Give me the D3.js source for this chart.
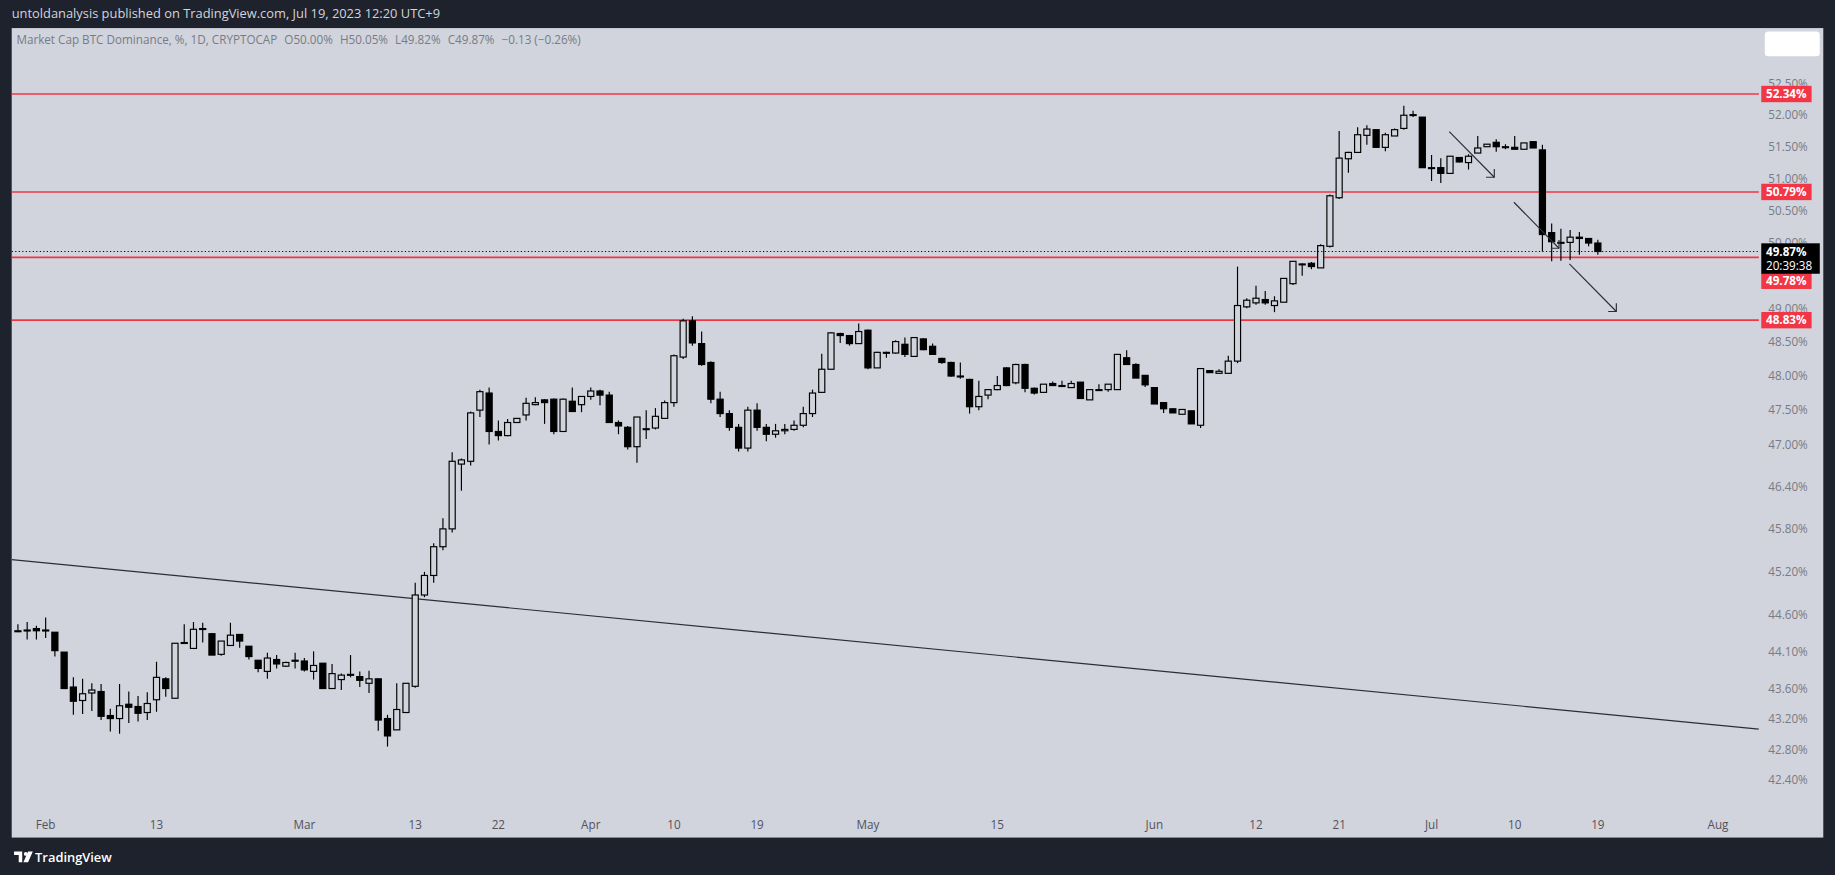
<!DOCTYPE html>
<html><head><meta charset="utf-8">
<script src="https://cdn.jsdelivr.net/npm/d3@7"></script>
<style>html,body{margin:0;padding:0;background:#1e222d;overflow:hidden}</style>
</head><body>
<svg id="c" width="1835" height="875" viewBox="0 0 1568 748" preserveAspectRatio="none"></svg>
<script>
// ---- data ----
const startDate = "2023-01-29";
// daily candles [open, high, low, close] from Jan 29 to Jul 19, 2023
const ohlc = [
[44.39,44.48,44.37,44.39],[44.40,44.51,44.27,44.40],[44.42,44.46,44.27,44.39],
[44.40,44.57,44.29,44.40],[44.37,44.37,44.04,44.12],[44.10,44.10,43.61,43.61],[43.63,43.76,43.26,43.44],[43.45,43.74,43.27,43.54],[43.55,43.68,43.31,43.59],[43.57,43.67,43.19,43.24],[43.25,43.34,43.04,43.21],[43.21,43.67,43.01,43.38],[43.40,43.57,43.15,43.36],[43.37,43.51,43.17,43.28],[43.29,43.56,43.19,43.41],[43.46,43.97,43.30,43.76],[43.74,43.76,43.50,43.61],[43.48,44.22,43.48,44.22],[44.22,44.48,44.22,44.23],[44.15,44.51,44.15,44.41],[44.42,44.50,44.23,44.41],[44.35,44.35,44.06,44.06],[44.07,44.25,44.05,44.25],[44.19,44.50,44.19,44.33],[44.34,44.34,44.16,44.25],[44.18,44.18,44.00,44.04],[43.99,43.99,43.83,43.88],[43.84,44.09,43.74,44.02],[44.00,44.06,43.88,43.94],[43.91,43.97,43.90,43.96],[43.99,44.09,43.88,43.98],
[43.98,44.02,43.84,43.86],[43.84,44.11,43.73,43.92],[43.95,43.95,43.61,43.61],[43.61,43.94,43.61,43.81],[43.73,43.81,43.59,43.79],[43.80,44.06,43.76,43.79],[43.77,43.84,43.63,43.72],[43.68,43.85,43.55,43.74],[43.74,43.74,43.05,43.19],[43.21,43.26,42.84,42.98],[43.06,43.68,43.06,43.33],[43.29,43.68,43.29,43.68],[43.64,45.05,43.62,44.88],[44.88,45.20,44.85,45.15],[45.15,45.60,45.05,45.55],[45.55,45.95,45.50,45.80],[45.80,46.89,45.75,46.76],[46.72,46.80,46.34,46.78],[46.76,47.48,46.70,47.46],[47.50,47.80,47.40,47.77],[47.75,47.83,47.00,47.19],[47.19,47.35,47.06,47.13],[47.13,47.37,47.12,47.32],[47.32,47.38,47.32,47.38],[47.43,47.68,47.35,47.60],[47.58,47.69,47.57,47.61],[47.65,47.66,47.30,47.61],[47.66,47.67,47.15,47.19],[47.19,47.67,47.19,47.66],[47.63,47.83,47.48,47.48],[47.58,47.70,47.47,47.70],
[47.70,47.83,47.65,47.78],[47.78,47.80,47.57,47.72],[47.72,47.77,47.32,47.32],[47.32,47.35,47.15,47.27],[47.25,47.27,46.93,46.97],[46.97,47.40,46.74,47.40],[47.23,47.50,47.08,47.23],[47.24,47.53,47.22,47.41],[47.38,47.64,47.38,47.61],[47.61,48.32,47.55,48.30],[48.28,48.85,48.25,48.82],[48.82,48.89,48.45,48.49],[48.48,48.66,48.15,48.17],[48.20,48.22,47.60,47.66],[47.66,47.77,47.40,47.45],[47.45,47.50,47.20,47.25],[47.25,47.30,46.90,46.95],[46.95,47.55,46.90,47.50],[47.50,47.60,47.20,47.25],[47.25,47.30,47.05,47.15],[47.15,47.30,47.10,47.20],[47.20,47.30,47.15,47.22],[47.22,47.35,47.20,47.28],[47.28,47.55,47.25,47.45],[47.45,47.80,47.40,47.75],[47.76,48.33,47.75,48.10],[48.10,48.65,48.10,48.64],[48.63,48.64,48.49,48.60],[48.60,48.61,48.45,48.48],[48.48,48.78,48.48,48.66],
[48.68,48.69,48.10,48.12],[48.12,48.36,48.12,48.35],[48.35,48.36,48.27,48.35],[48.34,48.53,48.33,48.51],[48.47,48.57,48.28,48.32],[48.29,48.58,48.28,48.57],[48.55,48.56,48.38,48.39],[48.44,48.48,48.31,48.32],[48.26,48.27,48.18,48.20],[48.20,48.21,47.99,48.00],[48.00,48.20,47.96,47.99],[47.95,47.96,47.45,47.55],[47.55,47.93,47.50,47.70],[47.72,47.81,47.66,47.80],[47.80,48.00,47.79,47.86],[48.12,48.13,47.85,47.86],[47.90,48.18,47.88,48.17],[48.17,48.18,47.76,47.82],[47.82,47.83,47.73,47.75],[47.76,47.88,47.76,47.88],[47.89,47.92,47.86,47.86],[47.86,47.93,47.85,47.86],[47.83,47.93,47.83,47.89],[47.91,47.91,47.67,47.67],[47.65,47.80,47.65,47.80],[47.80,47.88,47.78,47.80],[47.80,47.88,47.77,47.88],[47.80,48.32,47.80,48.32],[48.27,48.38,48.17,48.17],[48.17,48.19,47.97,47.97],[48.01,48.01,47.84,47.87],
[47.83,47.83,47.59,47.59],[47.61,47.61,47.46,47.52],[47.52,47.52,47.46,47.46],[47.44,47.51,47.44,47.51],[47.49,47.49,47.30,47.30],[47.28,48.11,47.24,48.11],[48.08,48.08,48.05,48.05],[48.04,48.10,48.04,48.07],[48.04,48.30,48.04,48.22],[48.22,49.64,48.19,49.05],[49.03,49.16,49.01,49.13],[49.09,49.35,49.06,49.16],[49.14,49.27,49.06,49.09],[49.05,49.19,48.95,49.12],[49.10,49.46,49.10,49.46],[49.38,49.72,49.36,49.72],[49.68,49.69,49.50,49.68],[49.69,49.71,49.60,49.64],[49.62,49.98,49.62,49.96],[49.95,50.75,49.93,50.73],[50.70,51.75,50.68,51.32],[51.31,51.42,51.09,51.41],[51.41,51.81,51.41,51.69],[51.68,51.84,51.53,51.78],[51.77,51.77,51.49,51.49],[51.49,51.72,51.43,51.69],[51.67,51.79,51.67,51.77],[51.79,52.15,51.77,52.00],[52.01,52.07,51.97,52.01],[51.97,51.97,51.17,51.17],
[51.17,51.37,50.96,51.17],[51.17,51.32,50.93,51.08],[51.08,51.35,51.08,51.35],[51.33,51.33,51.25,51.26],[51.25,51.38,51.14,51.35],[51.40,51.67,51.40,51.48],[51.50,51.54,51.50,51.54],[51.57,51.62,51.42,51.50],[51.50,51.54,51.46,51.50],[51.49,51.67,51.46,51.46],[51.46,51.56,51.46,51.56],[51.58,51.58,51.48,51.48],[51.45,51.53,49.87,50.13],[50.16,50.30,49.72,50.02],[50.01,50.22,49.73,50.01],[50.01,50.20,49.74,50.09],[50.09,50.17,49.82,50.07],[50.07,50.07,49.95,50.00],[50.00,50.05,49.82,49.87]
];
const levels = [52.34, 50.79, 49.78, 48.83];
const lastPrice = 49.87;
const countdown = "20:39:38";
const priceTicks = [52.50,52.00,51.50,51.00,50.50,50.00,49.50,49.00,48.50,48.00,47.50,47.00,46.40,45.80,45.20,44.60,44.10,43.60,43.20,42.80,42.40];
const timeTicks = ["2023-02-01","2023-02-13","2023-03-01","2023-03-13","2023-03-22","2023-04-01","2023-04-10","2023-04-19","2023-05-01","2023-05-15","2023-06-01","2023-06-12","2023-06-21","2023-07-01","2023-07-10","2023-07-19","2023-08-01"];
const trendLine = [["2023-01-28T08:00",45.37],["2023-08-05T10:00",43.07]];
const arrows = [
  [["2023-07-02T22:00",51.74],["2023-07-07T19:00",51.02]],
  [["2023-07-09T22:00",50.63],["2023-07-14T19:00",49.92]],
  [["2023-07-15T22:00",49.68],["2023-07-21T00:00",48.96]]
];
const headerText = "untoldanalysis published on TradingView.com, Jul 19, 2023 12:20 UTC+9";
const legendText = ["Market Cap BTC Dominance, %, 1D, CRYPTOCAP","O","50.00%","H","50.05%","L","49.82%","C","49.87%","−0.13 (−0.26%)"];

// ---- drawing ----
const svg = d3.select("#c");
const parse = s => new Date(s.length>10 ? s : s+"T00:00");
const fmtMonth = d3.timeFormat("%b"), fmtDay = d3.timeFormat("%-d");
const x = d3.scaleTime().domain([parse("2023-02-01"), parse("2023-08-01")]).range([39,1468]);
const y = d3.scaleLog().domain([41.9,53.41]).range([700,24]);
const plotL=10, plotR=1503, plotT=24, plotB=690;
const bg="#d1d4dc";

svg.append("rect").attr("width",1568).attr("height",748).attr("fill","#1e222d");
svg.append("rect").attr("x",10).attr("y",24).attr("width",1548).attr("height",692).attr("fill",bg);
svg.append("text").attr("x",10).attr("y",15).attr("fill","#d1d4dc").attr("font-family","Open Sans, sans-serif").attr("font-size",11).text(headerText);

const defs = svg.append("defs");
defs.append("clipPath").attr("id","plot").append("rect").attr("x",plotL).attr("y",plotT).attr("width",plotR-plotL).attr("height",plotB-plotT+20);
const g = svg.append("g").attr("clip-path","url(#plot)");

g.append("line").attr("x1",x(parse(trendLine[0][0]))).attr("y1",y(trendLine[0][1]))
 .attr("x2",x(parse(trendLine[1][0]))).attr("y2",y(trendLine[1][1]))
 .attr("stroke","#2a2e39").attr("stroke-width",1);

g.selectAll(".lvl").data(levels).join("line").attr("x1",plotL).attr("x2",plotR)
 .attr("y1",d=>y(d)).attr("y2",d=>y(d)).attr("stroke","#f23645").attr("stroke-width",1.4);
svg.append("line").attr("x1",plotL).attr("x2",plotR).attr("y1",y(lastPrice)).attr("y2",y(lastPrice))
 .attr("stroke","#000").attr("stroke-width",1).attr("stroke-dasharray","1,2");

const s0 = parse(startDate);
const candles = ohlc.map((r,i)=>({date:d3.timeDay.offset(s0,i),o:r[0],h:r[1],l:r[2],c:r[3]}));
const bw = 5.2;
const cg = g.selectAll(".cd").data(candles).join("g");
cg.append("line").attr("x1",d=>x(d.date)).attr("x2",d=>x(d.date)).attr("y1",d=>y(d.h)).attr("y2",d=>y(d.l)).attr("stroke","#000").attr("stroke-width",1);
cg.append("rect").attr("x",d=>x(d.date)-bw/2).attr("width",bw)
 .attr("y",d=>y(Math.max(d.o,d.c))).attr("height",d=>Math.max(0.8,Math.abs(y(d.o)-y(d.c))))
 .attr("fill",d=>d.c<d.o?"#000":bg).attr("stroke","#000").attr("stroke-width",1);

arrows.forEach(a=>{
  const x1=x(parse(a[0][0])),y1=y(a[0][1]),x2=x(parse(a[1][0])),y2=y(a[1][1]);
  g.append("line").attr("x1",x1).attr("y1",y1).attr("x2",x2).attr("y2",y2).attr("stroke","#2a2e39").attr("stroke-width",1);
  g.append("path").attr("d",`M${x2-7},${y2}L${x2},${y2}L${x2},${y2-7}`).attr("fill","none").attr("stroke","#2a2e39").attr("stroke-width",1);
});

const lg = svg.append("text").attr("x",14).attr("y",38).attr("font-family","Open Sans, sans-serif").attr("font-size",10).attr("fill","#787b86");
legendText.forEach((t,i)=>lg.append("tspan").attr("dx", (i===1||i===3||i===5||i===7||i===9)?6:0).text(t));

// price axis: a tick is hidden only when its centre falls under a label box
const labelY = {52.34:y(52.34),50.79:y(50.79),49.78:y(49.78)+20,48.83:y(48.83)};
const boxes = levels.map(v=>[labelY[v]-7,labelY[v]+7]).concat([[y(lastPrice)-7,y(lastPrice)+19]]);
const visTicks = priceTicks.filter(t=>!boxes.some(b=>y(t)>b[0]&&y(t)<b[1]));
svg.selectAll(".pt").data(visTicks).join("text").attr("x",1511).attr("y",d=>y(d)+3.5)
 .attr("font-family","Open Sans, sans-serif").attr("font-size",10).attr("fill","#787b86")
 .text(d=>d.toFixed(2)+"%");
svg.append("rect").attr("x",1508).attr("y",27).attr("width",47).attr("height",21).attr("rx",3).attr("fill","#fff");

levels.forEach(v=>{
  const cy = labelY[v];
  svg.append("rect").attr("x",1505).attr("y",cy-7).attr("width",43).attr("height",14).attr("fill","#f23645");
  svg.append("text").attr("x",1509).attr("y",cy+3.5).attr("font-family","Open Sans, sans-serif").attr("font-weight","bold").attr("font-size",10).attr("fill","#fff").text(v.toFixed(2)+"%");
});
const ly = y(lastPrice);
svg.append("rect").attr("x",1505).attr("y",ly-7).attr("width",50).attr("height",26).attr("fill","#000");
svg.append("text").attr("x",1509).attr("y",ly+3.5).attr("font-family","Open Sans, sans-serif").attr("font-weight","bold").attr("font-size",10).attr("fill","#fff").text(lastPrice.toFixed(2)+"%");
svg.append("text").attr("x",1509).attr("y",ly+15.5).attr("font-family","Open Sans, sans-serif").attr("font-size",10).attr("fill","#fff").text(countdown);

svg.selectAll(".tt").data(timeTicks.map(parse)).join("text").attr("x",d=>x(d)).attr("y",709)
 .attr("text-anchor","middle").attr("font-family","Open Sans, sans-serif").attr("font-size",10).attr("fill","#50535e")
 .text(d=>d.getDate()===1?fmtMonth(d):fmtDay(d));

const f = svg.append("g").attr("transform","translate(12,727)");
f.append("path").attr("d","M0,1h7v9h-3v-6h-4z").attr("fill","#fff");
f.append("circle").attr("cx",10).attr("cy",3).attr("r",1.6).attr("fill","#fff");
f.append("path").attr("d","M12,1h4l-4,9h-4z").attr("fill","#fff");
svg.append("text").attr("x",30).attr("y",737).attr("font-family","Open Sans, sans-serif").attr("font-weight","600").attr("font-size",11).attr("fill","#fff").text("TradingView");
</script>
</body></html>
